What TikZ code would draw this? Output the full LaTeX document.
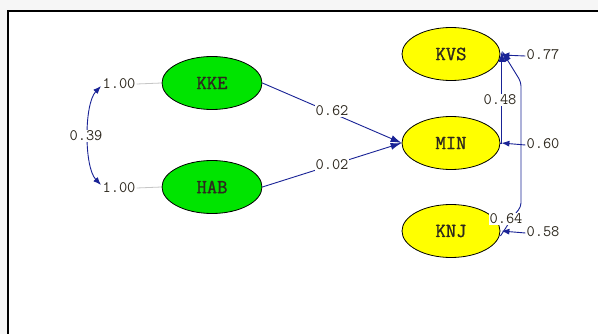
\documentclass[tikz,border=0pt]{standalone}
\usepackage{fontspec}
\newfontfamily\lisrel{Latin Modern Mono}[AutoFakeBold=1.3]
\usetikzlibrary{arrows.meta,shapes.geometric}
\definecolor{pathblue}{RGB}{25,35,150}
\definecolor{latgreen}{RGB}{0,228,0}
\definecolor{obsyellow}{RGB}{255,255,0}
\definecolor{bggray}{RGB}{246,246,246}
\definecolor{txt}{RGB}{45,40,30}
\tikzset{
  varfont/.style={font=\lisrel\bfseries\fontsize{20}{20}\selectfont, text=txt},
  latent/.style={ellipse, draw=black, line width=0.8pt, fill=latgreen, minimum width=100pt, minimum height=53pt, inner sep=0pt, varfont},
  observed/.style={ellipse, draw=black, line width=0.8pt, fill=obsyellow, minimum width=98pt, minimum height=53pt, inner sep=0pt, varfont},
  coef/.style={font=\lisrel\fontsize{16}{16}\selectfont, text=txt, inner sep=1pt},
  coefw/.style={coef, fill=white},
  path/.style={draw=pathblue, line width=0.9pt},
  causal/.style={path, -{Latex[length=11pt,width=7pt]}},
  errarrow/.style={path, -{Latex[length=8pt,width=6pt]}},
}
\begin{document}
\begin{tikzpicture}[x=1pt,y=-1pt]
\useasboundingbox (0,0) rectangle (598,334);
\fill[bggray] (0,0) rectangle (598,334);
\fill[white] (8,11) rectangle (600,340);
\draw[black, line width=1.8pt] (600,11) -- (8,11) -- (8,340);

% latent variables
\node[latent] (KKE) at (212,83) {KKE};
\node[latent] (HAB) at (212,187) {HAB};
% observed / endogenous
\node[observed] (KVS) at (451,54) {KVS};
\node[observed] (MIN) at (451,143) {MIN};
\node[observed] (KNJ) at (451,231) {KNJ};

% variances of latent variables
\node[coef] (vKKE) at (119,84) {1.00};
\node[coef] (vHAB) at (119,188) {1.00};
\draw[gray!45, line width=0.8pt] (vKKE.east) -- (KKE.west);
\draw[gray!45, line width=0.8pt] (vHAB.east) -- (HAB.west);

% covariance
\coordinate (cA) at (101,86);
\coordinate (cB) at (101,185);
\draw[path, {Latex[length=8pt,width=6pt]}-{Latex[length=8pt,width=6pt]}] (cA) .. controls (84,104) and (84,167) .. (cB);
\node[coefw] (cov) at (86,136) {0.39};

% structural paths
\draw[causal] (KKE.east) -- (MIN.west) node[coefw, pos=0.5, yshift=2pt] {0.62};
\draw[causal] (HAB.east) -- (MIN.west) node[coefw, pos=0.5] {0.02};

\coordinate (kvsIn) at ([xshift=1.5pt,yshift=3pt]KVS.east);
\draw[causal] (MIN.east) -| (kvsIn);
\node[coefw] (p48) at (500,100) {0.48};

\coordinate (knjOut) at ([yshift=-5pt]KNJ.east);
\draw[causal, rounded corners=4pt] (knjOut) -- (515,214) -- (521,207) -- (521,82) -- (kvsIn);
\node[coefw] (p64) at (506,219) {0.64};

% error variances
\node[coef] (eKVS) at (543,55) {0.77};
\node[coef] (eMIN) at (543,144) {0.60};
\node[coef] (eKNJ) at (543,232) {0.58};
\draw[errarrow] ([yshift=-1pt]eKVS.west) -- ([xshift=1pt,yshift=-1pt]KVS.east);
\draw[errarrow] ([yshift=-1pt]eMIN.west) -- ([xshift=1pt]MIN.east);
\draw[errarrow] ([yshift=-1pt]eKNJ.west) -- ([xshift=1pt]KNJ.east);
\end{tikzpicture}
\end{document}
